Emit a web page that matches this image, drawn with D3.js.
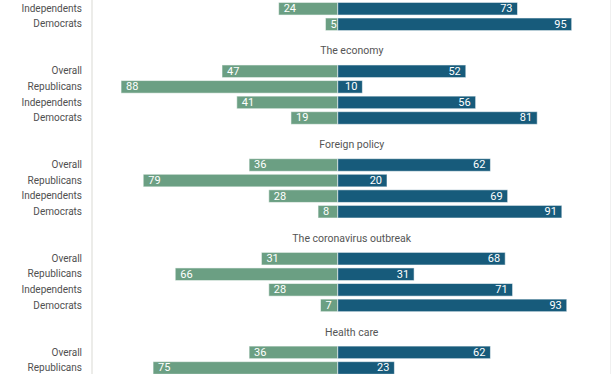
<!DOCTYPE html>
<html>
<head>
<meta charset="utf-8">
<title>approve / disapprove by party</title>
<style>
  body { margin: 0; background: #fff; }
  svg { display: block; font-family: Roboto, "Noto Sans", sans-serif; }
  .cat text { font-size: 10px; fill: #505050; }
  .topic { font-size: 10.5px; fill: #555; }
  .val { font-size: 11px; fill: #fff; }
</style>
</head>
<body>
<svg width="612" height="374"></svg>
<script src="https://d3js.org/d3.v7.min.js"></script>
<script>
// topics (first one starts above the visible area, last one runs past the bottom)
const topics = ["", "The economy", "Foreign policy", "The coronavirus outbreak", "Health care"];
const segments = ["Overall", "Republicans", "Independents", "Democrats"];

// disapprove (green, left) and approve (blue, right), one row per topic
const disapprove = [
  [null, null, 24, 5],
  [47, 88, 41, 19],
  [36, 79, 28, 8],
  [31, 66, 28, 7],
  [36, 75, null, null]
];
const approve = [
  [null, null, 73, 95],
  [52, 10, 56, 81],
  [62, 20, 69, 91],
  [68, 31, 71, 93],
  [62, 23, null, null]
];

const width = 612, height = 374;
const green = "#6b9f83", blue = "#175b7b";

const svg = d3.select("svg");

const x = d3.scaleLinear().domain([-100, 100]).range([91.5, 584]);

const groupStep = 93.7;
const gy = d3.scaleBand()
  .domain(topics)
  .range([-52, -52 + groupStep * topics.length])
  .paddingInner(0);

const ry = d3.scaleBand()
  .domain(segments)
  .range([21.8, 21.8 + 4 * 15.57])
  .paddingInner(0.19)
  .paddingOuter(0.095);

// left axis rule
svg.append("line")
  .attr("x1", 92).attr("x2", 92)
  .attr("y1", 0).attr("y2", height)
  .attr("stroke", "#e6e6e2").attr("stroke-width", 1.5);

// faint right frame edge
svg.append("line")
  .attr("x1", 610.5).attr("x2", 610.5)
  .attr("y1", 0).attr("y2", height)
  .attr("stroke", "#f0f0f0").attr("stroke-width", 1);

const rows = [];
topics.forEach((t, i) => {
  segments.forEach((s, j) => {
    rows.push({topic: t, seg: s, dis: disapprove[i][j], app: approve[i][j]});
  });
});

const groups = svg.selectAll("g.topicGroup")
  .data(topics)
  .join("g")
  .attr("class", "topicGroup")
  .attr("transform", d => `translate(0,${gy(d)})`);

groups.filter(d => d !== "").append("text")
  .attr("class", "topic")
  .attr("x", (x.range()[0] + width) / 2)
  .attr("y", 10)
  .attr("text-anchor", "middle")
  .attr("dominant-baseline", "middle")
  .text(d => d);

// category labels through an axis per group (only rows with values)
groups.append("g")
  .attr("class", "cat")
  .attr("transform", "translate(92,0)")
  .each(function (t, i) {
    const shown = segments.filter((s, j) => disapprove[i][j] != null);
    d3.select(this)
      .call(d3.axisLeft(ry).tickValues(shown).tickSize(0).tickPadding(10))
      .call(g => g.select(".domain").remove())
      .selectAll("text")
      .style("font-family", "Roboto, sans-serif");
  });

const h = ry.bandwidth();

groups.each(function (t, i) {
  const g = d3.select(this);
  const data = rows.filter(r => r.topic === t);

  g.selectAll("rect.dis")
    .data(data.filter(d => d.dis != null))
    .join("rect")
    .attr("class", "dis")
    .attr("x", d => x(-d.dis))
    .attr("y", d => ry(d.seg))
    .attr("width", d => x(0) - x(-d.dis))
    .attr("height", h)
    .attr("fill", green)
    .attr("stroke", "rgba(255,255,255,0.55)")
    .attr("stroke-width", 1);

  g.selectAll("rect.app")
    .data(data.filter(d => d.app != null))
    .join("rect")
    .attr("class", "app")
    .attr("x", x(0))
    .attr("y", d => ry(d.seg))
    .attr("width", d => x(d.app) - x(0))
    .attr("height", h)
    .attr("fill", blue)
    .attr("stroke", "rgba(255,255,255,0.55)")
    .attr("stroke-width", 1);

  g.selectAll("text.vd")
    .data(data.filter(d => d.dis != null))
    .join("text")
    .attr("class", "val vd")
    .attr("x", d => x(-d.dis) + 5)
    .attr("y", d => ry(d.seg) + h / 2)
    .attr("dominant-baseline", "central")
    .text(d => d.dis);

  g.selectAll("text.va")
    .data(data.filter(d => d.app != null))
    .join("text")
    .attr("class", "val va")
    .attr("x", d => x(d.app) - 5)
    .attr("y", d => ry(d.seg) + h / 2)
    .attr("text-anchor", "end")
    .attr("dominant-baseline", "central")
    .text(d => d.app);
});
</script>
</body>
</html>
